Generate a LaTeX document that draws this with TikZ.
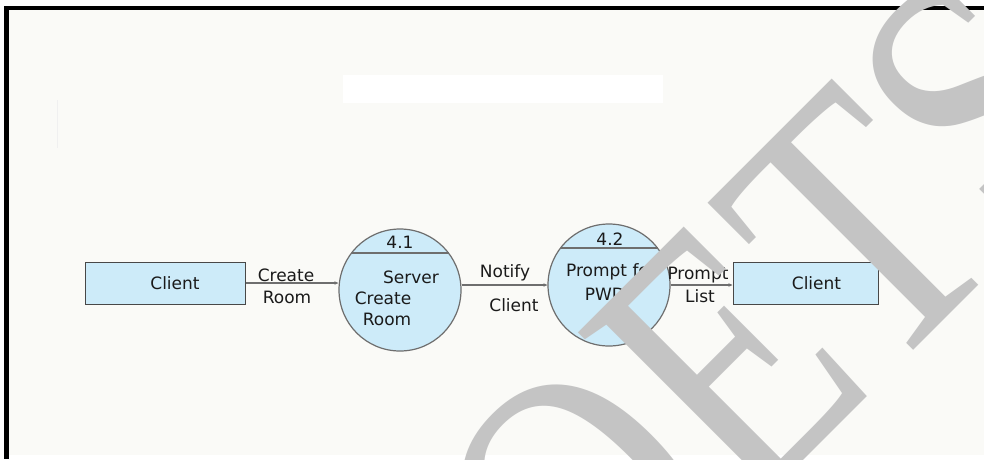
\documentclass[tikz,border=0pt]{standalone}
\usepackage{fontspec}
\setmainfont{DejaVu Sans}
\newfontfamily\markfont{Liberation Serif}
\usetikzlibrary{arrows.meta}

\definecolor{paper}{HTML}{FAFAF7}
\definecolor{procfill}{HTML}{CDEBF9}
\definecolor{edgegray}{HTML}{6E6E6E}
\definecolor{inkdark}{HTML}{1A1A1A}
\definecolor{markgray}{HTML}{C4C4C4}

\tikzset{
  entity/.style={draw=inkdark!80, line width=1pt, fill=procfill,
    minimum height=42pt, inner sep=0pt, text=inkdark},
  process/.style={circle, draw=edgegray, line width=1.2pt, fill=procfill,
    minimum size=122pt, inner sep=0pt},
  divider/.style={draw=edgegray, line width=1.2pt},
  txt/.style={inner sep=0pt, text=inkdark},
  flow/.style={draw=edgegray, line width=1.4pt,
    -{Stealth[length=4pt,width=3.5pt]}},
  frameline/.style={draw=black, line width=4.5pt},
  stamptext/.style={inner sep=0pt, text=markgray, rotate=45, xscale=0.8,
    anchor=base west, font=\markfont\fontsize{381}{381}\selectfont},
}

\begin{document}
\begin{tikzpicture}[x=1pt, y=-1pt, font=\fontsize{17}{19}\selectfont]
  % canvas and frame
  \useasboundingbox (0,0) rectangle (984,459);
  \fill[white] (0,0) rectangle (984,459);
  \fill[paper] (9,10) rectangle (984,455);
  \fill[white] (343,75) rectangle (663,103);
  \draw[black!6, line width=0.8pt] (57,100) -- (57,148);
  \draw[frameline] (4,8) -- (984,8);
  \draw[frameline] (6.5,6) -- (6.5,459);

  % external entities
  \node[entity, minimum width=160pt] (client1) at (165,283) {\hspace*{20pt}Client};
  \node[entity, minimum width=145pt] (client2) at (805.5,283) {\hspace*{22pt}Client};

  % processes
  \node[process] (p1) at (400,290) {};
  \draw[divider] (351.5,253) -- (448.5,253);
  \node[txt] (p1num)  at (400,242) {4.1};
  \node[txt] (p1name) at (411,277) {Server};
  \node[txt] (p1a)    at (383,298) {Create};
  \node[txt] (p1b)    at (387,319) {Room};

  \node[process] (p2) at (609,285) {};
  \draw[divider] (560.5,248) -- (657.5,248);
  \node[txt] (p2num)  at (610,239) {4.2};
  \node[txt] (p2a)    at (611,272) {Prompt for};
  \node[txt] (p2b)    at (605,294) {PWD};

  % data flows
  \draw[flow] (client1.east) -- (client1.east -| p1.west);
  \draw[flow] (p1.east |- p2.west) -- (p2.west);
  \draw[flow] (p2.east) -- (p2.east -| client2.west);

  % flow labels
  \node[txt] (f1a) at (286,275) {Create};
  \node[txt] (f1b) at (287,297) {Room};
  \node[txt] (f2a) at (505,273) {Notify};
  \node[txt] (f2b) at (514,305) {Client};
  \node[txt] (f3a) at (698,275) {Prompt};
  \node[txt] (f3b) at (700,296) {List};

  % watermark lettering across the sheet
  \begin{scope}
    \clip (0,0) rectangle (984,459);
    \node[stamptext] (stamp) at (593,671) {OETS};
  \end{scope}
\end{tikzpicture}
\end{document}
